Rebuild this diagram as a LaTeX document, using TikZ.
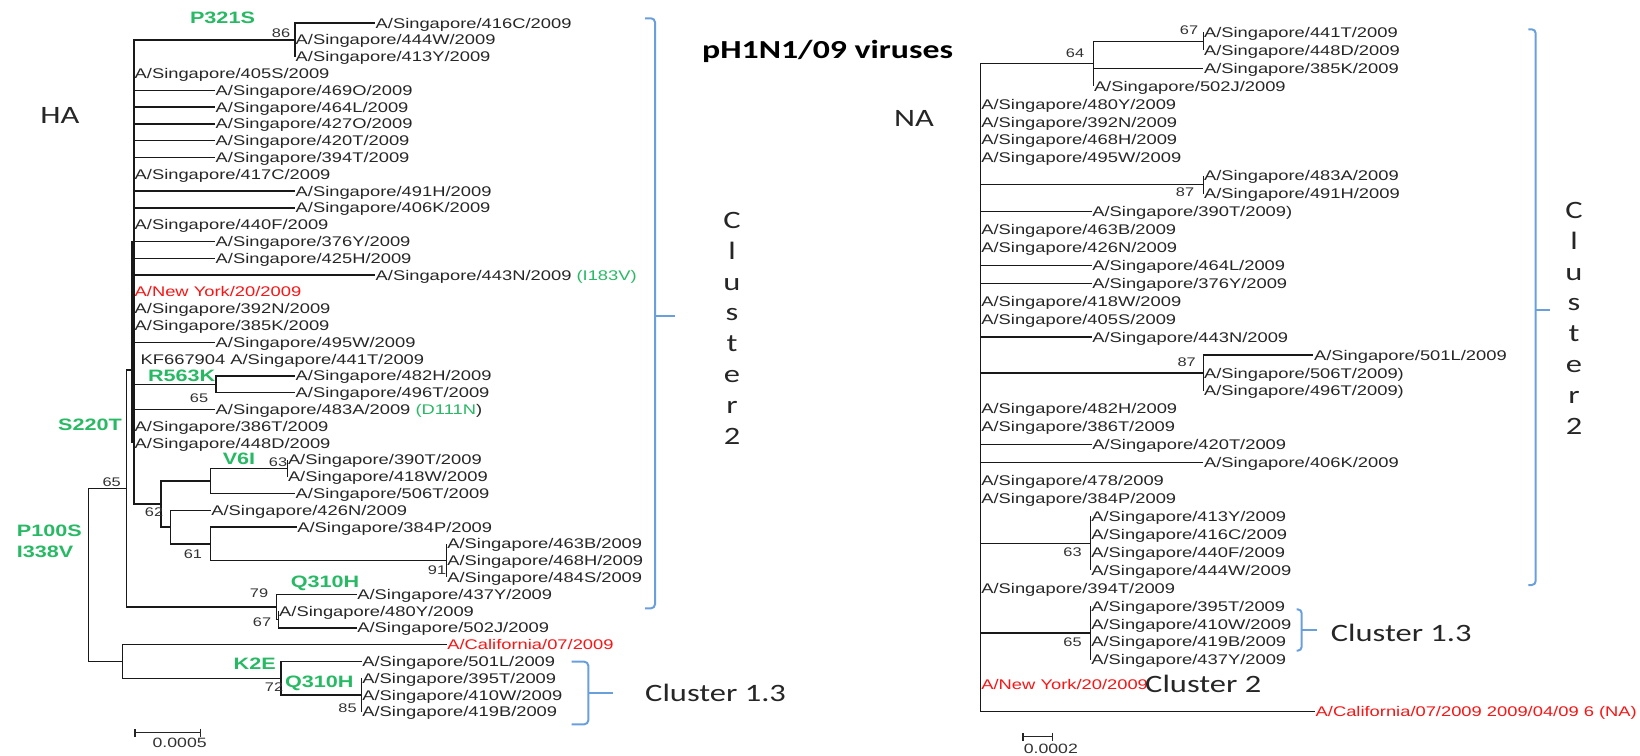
\documentclass[tikz,border=0pt]{standalone}
\usepackage{fontspec}
\usepackage{tikz}
\usetikzlibrary{arrows.meta}
\newfontfamily\arialx[FakeStretch=1.31]{Liberation Sans}
\newfontfamily\calx[FakeStretch=1.3]{Carlito}
\definecolor{mutgreen}{RGB}{40,185,100}
\definecolor{refred}{RGB}{250,20,20}
\definecolor{braceblue}{RGB}{105,160,220}
\tikzset{
  branch/.style={line width=1.4pt, black!90},
  taxon/.style={anchor=west, inner xsep=0.5pt, inner ysep=0pt, text height=10pt, text depth=0pt, text=black!85, font=\arialx\fontsize{14}{16}\selectfont},
  reftaxon/.style={taxon, text=refred},
  boot/.style={inner sep=0pt, text height=9pt, text depth=0pt, text=black!80, font=\arialx\fontsize{12.5}{14}\selectfont},
  mut/.style={inner sep=0pt, text height=12pt, text depth=0pt, text=mutgreen, font=\arialx\bfseries\fontsize{16.5}{18}\selectfont},
  cname/.style={inner sep=0pt, text height=16pt, text depth=0pt, text=black!85, font=\calx\fontsize{25}{30}\selectfont},
  stack/.style={inner sep=0pt, align=center, anchor=north, text=black!85, font=\calx\fontsize{25}{30.8}\selectfont},
  bracket/.style={line width=2pt, braceblue, rounded corners=4pt},
  scalebar/.style={line width=1.3pt, black!85, arrows={Bar[width=8pt]-Bar[width=8pt]}}
}
\begin{document}
\begin{tikzpicture}[x=1pt, y=-1pt]
\useasboundingbox (0,0) rectangle (1640,755);

% HA tree
\coordinate (haRoot) at (88.3,574.9);
\coordinate (ha65) at (126.7,488.4);
\coordinate (haPoly) at (134,370);
\coordinate (ha86) at (295,39.8);
\coordinate (haR563K) at (216,384.2);
\coordinate (ha62) at (161,503.9);
\coordinate (haV6I) at (210.7,480.8);
\coordinate (ha63) at (287.3,468.2);
\coordinate (haC) at (170.7,527);
\coordinate (ha61) at (210.7,543.8);
\coordinate (ha91) at (446.7,560.6);
\coordinate (ha79) at (276.7,606.8);
\coordinate (ha67) at (278.5,619.4);
\coordinate (haB) at (122.3,661.4);
\coordinate (haK2E) at (281,678.2);
\coordinate (ha85) at (361.7,695);
\coordinate (haIn1) at (132.6,241.4);
\coordinate (haIn2) at (132.6,443);

\node[taxon] (ha416C) at (375,23.0) {A/Singapore/416C/2009};
\node[taxon] (ha444W) at (295,39.8) {A/Singapore/444W/2009};
\node[taxon] (ha413Y) at (295,56.6) {A/Singapore/413Y/2009};
\node[taxon] (ha405S) at (134,73.4) {A/Singapore/405S/2009};
\node[taxon] (ha469O) at (215,90.2) {A/Singapore/469O/2009};
\node[taxon] (ha464L) at (215,107.0) {A/Singapore/464L/2009};
\node[taxon] (ha427O) at (215,123.8) {A/Singapore/427O/2009};
\node[taxon] (ha420T) at (215,140.6) {A/Singapore/420T/2009};
\node[taxon] (ha394T) at (215,157.4) {A/Singapore/394T/2009};
\node[taxon] (ha417C) at (134,174.2) {A/Singapore/417C/2009};
\node[taxon] (ha491H) at (295,191.0) {A/Singapore/491H/2009};
\node[taxon] (ha406K) at (295,207.8) {A/Singapore/406K/2009};
\node[taxon] (ha440F) at (134,224.6) {A/Singapore/440F/2009};
\node[taxon] (ha376Y) at (215,241.4) {A/Singapore/376Y/2009};
\node[taxon] (ha425H) at (215,258.2) {A/Singapore/425H/2009};
\node[taxon] (ha443N) at (375,275.0) {A/Singapore/443N/2009 \textcolor{mutgreen}{(I183V)}};
\node[reftaxon] (haNY) at (134,291.8) {A/New York/20/2009};
\node[taxon] (ha392N) at (134,308.6) {A/Singapore/392N/2009};
\node[taxon] (ha385K) at (134,325.4) {A/Singapore/385K/2009};
\node[taxon] (ha495W) at (215,342.2) {A/Singapore/495W/2009};
\node[taxon] (ha441T) at (140,359.0) {KF667904 A/Singapore/441T/2009};
\node[taxon] (ha482H) at (295,375.8) {A/Singapore/482H/2009};
\node[taxon] (ha496T) at (295,392.6) {A/Singapore/496T/2009};
\node[taxon] (ha483A) at (215,409.4) {A/Singapore/483A/2009 \textcolor{mutgreen}{(D111N})};
\node[taxon] (ha386T) at (134,426.2) {A/Singapore/386T/2009};
\node[taxon] (ha448D) at (134,443.0) {A/Singapore/448D/2009};
\node[taxon] (ha390T) at (287.3,459.8) {A/Singapore/390T/2009};
\node[taxon] (ha418W) at (287.3,476.6) {A/Singapore/418W/2009};
\node[taxon] (ha506T) at (295,493.4) {A/Singapore/506T/2009};
\node[taxon] (ha426N) at (210.7,510.2) {A/Singapore/426N/2009};
\node[taxon] (ha384P) at (296.7,527.0) {A/Singapore/384P/2009};
\node[taxon] (ha463B) at (446.7,543.8) {A/Singapore/463B/2009};
\node[taxon] (ha468H) at (446.7,560.6) {A/Singapore/468H/2009};
\node[taxon] (ha484S) at (446.7,577.4) {A/Singapore/484S/2009};
\node[taxon] (ha437Y) at (356.7,594.2) {A/Singapore/437Y/2009};
\node[taxon] (ha480Y) at (278.5,611.0) {A/Singapore/480Y/2009};
\node[taxon] (ha502J) at (356.7,627.8) {A/Singapore/502J/2009};
\node[reftaxon] (haCal) at (446.7,644.6) {A/California/07/2009};
\node[taxon] (ha501L) at (361.7,661.4) {A/Singapore/501L/2009};
\node[taxon] (ha395T) at (361.7,678.2) {A/Singapore/395T/2009};
\node[taxon] (ha410W) at (361.7,695.0) {A/Singapore/410W/2009};
\node[taxon] (ha419B) at (361.7,711.8) {A/Singapore/419B/2009};

\draw[branch] (haRoot) |- (ha65);
\draw[branch] (haRoot) |- (haB);
\draw[branch] (ha65) |- (haPoly);
\draw[branch] (ha65) |- (ha79);
\draw[branch] (haPoly) |- (ha86);
\draw[branch] (haPoly) |- (haR563K);
\draw[branch] (haPoly) |- (ha62);
\foreach \c in {405S,469O,464L,427O,420T,394T,417C,491H,406K,440F,376Y,425H,443N,NY,392N,385K,495W,483A,386T,448D}
  \draw[branch] (haPoly) |- (ha\c.west);
\draw[branch, line width=2.6pt] (haIn1) -- (haIn2);
\foreach \c in {416C,444W,413Y} \draw[branch] (ha86) |- (ha\c.west);
\foreach \c in {482H,496T} \draw[branch] (haR563K) |- (ha\c.west);
\draw[branch] (ha62) |- (haV6I);
\draw[branch] (ha62) |- (haC);
\draw[branch] (haV6I) |- (ha63);
\draw[branch] (haV6I) |- (ha506T.west);
\foreach \c in {390T,418W} \draw[branch] (ha63) |- (ha\c.west);
\draw[branch] (haC) |- (ha426N.west);
\draw[branch] (haC) |- (ha61);
\draw[branch] (ha61) |- (ha384P.west);
\draw[branch] (ha61) |- (ha91);
\foreach \c in {463B,468H,484S} \draw[branch] (ha91) |- (ha\c.west);
\draw[branch] (ha79) |- (ha437Y.west);
\draw[branch] (ha79) |- (ha67);
\foreach \c in {480Y,502J} \draw[branch] (ha67) |- (ha\c.west);
\draw[branch] (haB) |- (haCal.west);
\draw[branch] (haB) |- (haK2E);
\draw[branch] (haK2E) |- (ha501L.west);
\draw[branch] (haK2E) |- (ha85);
\foreach \c in {395T,410W,419B} \draw[branch] (ha85) |- (ha\c.west);

\node[boot] at (281,33) {86};
\node[boot] at (199,397.7) {65};
\node[boot] at (278,461.7) {63};
\node[boot] at (154,512.3) {62};
\node[boot] at (193,554) {61};
\node[boot] at (437,570) {91};
\node[boot] at (111.7,481.7) {65};
\node[boot] at (259,593.3) {79};
\node[boot] at (262,621.7) {67};
\node[boot] at (274,686.7) {72};
\node[boot] at (347.5,708.3) {85};

\node[mut] at (222.5,17.3) {P321S};
\node[mut] at (181.7,375) {R563K};
\node[mut] at (90,424.3) {S220T};
\node[mut] at (239,458.3) {V6I};
\node[mut, anchor=west] at (16.7,530) {P100S};
\node[mut, anchor=west] at (16.7,551.7) {I338V};
\node[mut] at (325,581.7) {Q310H};
\node[mut] at (254.7,663.3) {K2E};
\node[mut] at (319.3,681.7) {Q310H};

\coordinate (haBarA) at (134.3,732.7);
\coordinate (haBarB) at (201,732.7);
\draw[scalebar] (haBarA) -- (haBarB);
\node[boot, font=\arialx\fontsize{13.5}{15}\selectfont] at (179.7,743.3) {0.0005};

\node[cname] (haName) at (60,115) {HA};
\draw[bracket] (645,18.3) -- (655,18.3) -- (655,608.3) -- (645,608.3);
\draw[bracket] (655,316) -- (675,316);
\node[stack] (haClu2) at (732,212) {C\\l\\u\\s\\t\\e\\r\\2};
\draw[bracket] (571.7,661.7) -- (588.3,661.7) -- (588.3,724.3) -- (571.7,724.3);
\draw[bracket] (588.3,692.7) -- (613.3,692.7);
\node[cname, anchor=west] (haClu13) at (645,693.3) {Cluster 1.3};

\node[anchor=west, inner sep=0pt, text height=17pt, text depth=0pt, font=\calx\bfseries\fontsize{26}{30}\selectfont] (title) at (702,50) {pH1N1/09 viruses};

% NA tree
\coordinate (naRoot) at (980.7,387);
\coordinate (na64) at (1093.3,63.7);
\coordinate (na67) at (1203.3,41.3);
\coordinate (na87a) at (1203.3,184.7);
\coordinate (na87b) at (1203.3,373);
\coordinate (na63) at (1090.7,543.3);
\coordinate (na65) at (1090.7,633);

\node[taxon] (na441T) at (1203.3,32.3) {A/Singapore/441T/2009};
\node[taxon] (na448D) at (1203.3,50.2) {A/Singapore/448D/2009};
\node[taxon] (na385K) at (1203.3,68.2) {A/Singapore/385K/2009};
\node[taxon] (na502J) at (1093.3,86.1) {A/Singapore/502J/2009};
\node[taxon] (na480Y) at (980.7,104.0) {A/Singapore/480Y/2009};
\node[taxon] (na392N) at (980.7,122.0) {A/Singapore/392N/2009};
\node[taxon] (na468H) at (980.7,139.9) {A/Singapore/468H/2009};
\node[taxon] (na495W) at (980.7,157.8) {A/Singapore/495W/2009};
\node[taxon] (na483A) at (1203.3,175.7) {A/Singapore/483A/2009};
\node[taxon] (na491H) at (1203.3,193.7) {A/Singapore/491H/2009};
\node[taxon] (na390T) at (1091.7,211.6) {A/Singapore/390T/2009)};
\node[taxon] (na463B) at (980.7,229.5) {A/Singapore/463B/2009};
\node[taxon] (na426N) at (980.7,247.5) {A/Singapore/426N/2009};
\node[taxon] (na464L) at (1091.7,265.4) {A/Singapore/464L/2009};
\node[taxon] (na376Y) at (1091.7,283.3) {A/Singapore/376Y/2009};
\node[taxon] (na418W) at (980.7,301.3) {A/Singapore/418W/2009};
\node[taxon] (na405S) at (980.7,319.2) {A/Singapore/405S/2009};
\node[taxon] (na443N) at (1091.7,337.1) {A/Singapore/443N/2009};
\node[taxon] (na501L) at (1313.3,355.0) {A/Singapore/501L/2009};
\node[taxon] (na506T) at (1203.3,373.0) {A/Singapore/506T/2009)};
\node[taxon] (na496T) at (1203.3,390.9) {A/Singapore/496T/2009)};
\node[taxon] (na482H) at (980.7,408.8) {A/Singapore/482H/2009};
\node[taxon] (na386T) at (980.7,426.8) {A/Singapore/386T/2009};
\node[taxon] (na420T) at (1091.7,444.7) {A/Singapore/420T/2009};
\node[taxon] (na406K) at (1203.3,462.6) {A/Singapore/406K/2009};
\node[taxon] (na478) at (980.7,480.6) {A/Singapore/478/2009};
\node[taxon] (na384P) at (980.7,498.5) {A/Singapore/384P/2009};
\node[taxon] (na413Y) at (1090.7,516.4) {A/Singapore/413Y/2009};
\node[taxon] (na416C) at (1090.7,534.3) {A/Singapore/416C/2009};
\node[taxon] (na440F) at (1090.7,552.3) {A/Singapore/440F/2009};
\node[taxon] (na444W) at (1090.7,570.2) {A/Singapore/444W/2009};
\node[taxon] (na394T) at (980.7,588.1) {A/Singapore/394T/2009};
\node[taxon] (na395T) at (1090.7,606.1) {A/Singapore/395T/2009};
\node[taxon] (na410W) at (1090.7,624.0) {A/Singapore/410W/2009};
\node[taxon] (na419B) at (1090.7,641.9) {A/Singapore/419B/2009};
\node[taxon] (na437Y) at (1090.7,659.9) {A/Singapore/437Y/2009};
\node[reftaxon] (naNY) at (980.7,684) {A/New York/20/2009};
\node[reftaxon] (naCal) at (1315,711.7) {A/California/07/2009 2009/04/09 6 (NA)};

\foreach \c in {64,87a,87b,63,65} \draw[branch] (naRoot) |- (na\c);
\foreach \c in {480Y,392N,468H,495W,390T,463B,426N,464L,376Y,418W,405S,443N,482H,386T,420T,406K,478,384P,394T,NY,Cal}
  \draw[branch] (naRoot) |- (na\c.west);
\draw[branch] (na64) |- (na67);
\foreach \c in {385K,502J} \draw[branch] (na64) |- (na\c.west);
\foreach \c in {441T,448D} \draw[branch] (na67) |- (na\c.west);
\foreach \c in {483A,491H} \draw[branch] (na87a) |- (na\c.west);
\foreach \c in {501L,506T,496T} \draw[branch] (na87b) |- (na\c.west);
\foreach \c in {413Y,416C,440F,444W} \draw[branch] (na63) |- (na\c.west);
\foreach \c in {395T,410W,419B,437Y} \draw[branch] (na65) |- (na\c.west);

\node[boot] at (1075,53.3) {64};
\node[boot] at (1189,30) {67};
\node[boot] at (1185,191.7) {87};
\node[boot] at (1186.7,361.7) {87};
\node[boot] at (1072.5,551.7) {63};
\node[boot] at (1072.5,641.7) {65};

\coordinate (naBarA) at (1022.3,736.7);
\coordinate (naBarB) at (1053.3,736.7);
\draw[scalebar] (naBarA) -- (naBarB);
\node[boot, font=\arialx\fontsize{13.5}{15}\selectfont] at (1050.8,749) {0.0002};

\node[cname] (naName) at (914,118) {NA};
\draw[bracket] (1528.3,29.3) -- (1535.7,29.3) -- (1535.7,585) -- (1528.3,585);
\draw[bracket] (1535.7,310) -- (1550,310);
\node[stack] (naClu2) at (1574,202) {C\\l\\u\\s\\t\\e\\r\\2};
\draw[bracket] (1296.7,609.3) -- (1301.7,609.3) -- (1301.7,650.7) -- (1296.7,650.7);
\draw[bracket] (1301.7,630) -- (1316.7,630);
\node[cname, anchor=west] (naClu13) at (1330.7,633.3) {Cluster 1.3};
\node[cname, anchor=west] (naClu2b) at (1145,684) {Cluster 2};
\end{tikzpicture}
\end{document}
